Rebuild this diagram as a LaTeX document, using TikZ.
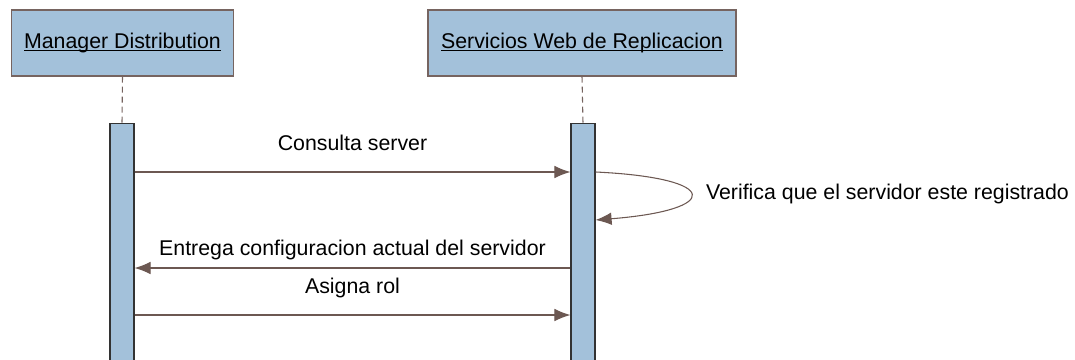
\documentclass[tikz,border=0pt]{standalone}
\usepackage{fontspec}
\setmainfont{Liberation Sans}
\usetikzlibrary{arrows.meta}
\definecolor{lifefill}{RGB}{163,193,218}
\definecolor{boxline}{RGB}{118,100,96}
\definecolor{msgline}{RGB}{108,88,82}
\newcommand{\ulabel}[1]{\setbox0\hbox{#1}\rlap{\rule[-1.6pt]{\wd0}{0.8pt}}\box0}
\tikzset{
  actor/.style={draw=boxline, fill=lifefill, line width=0.9pt, inner sep=0pt,
    font=\fontsize{16}{19}\selectfont},
  bar/.style={draw=black!80, fill=lifefill, line width=0.9pt, minimum width=18pt,
    minimum height=185pt, inner sep=0pt},
  lifeline/.style={draw=boxline, dash pattern=on 4.5pt off 3pt, line width=0.8pt},
  msg/.style={draw=msgline, line width=0.8pt, ->},
  msgtext/.style={font=\fontsize{16}{19}\selectfont, text height=11.5pt, text depth=3.5pt}
}
\begin{document}
\begin{tikzpicture}[x=0.75pt, y=-0.75pt]
    \tikzset{>={Latex[length=12pt,width=9.5pt]}}
    \useasboundingbox (0,0) rectangle (1075,360);
    \node[actor, minimum width=167pt, minimum height=49.5pt] (manager) at (122.5,43) {\ulabel{Manager Distribution}};
    \node[actor, minimum width=231pt, minimum height=49.5pt] (servicios) at (582,43) {\ulabel{Servicios Web de Replicacion}};
    \node[bar] (barM) at (122,246.5) {};
    \node[bar] (barS) at (583,246.5) {};
    \draw[lifeline] (manager.south) -- (barM.north);
    \draw[lifeline] (servicios.south) -- (barS.north);
    \coordinate (m1) at (0,172);
    \coordinate (s1) at (0,220);
    \coordinate (m2) at (0,268);
    \coordinate (m3) at (0,315);
    \draw[msg] (barM.east |- m1) -- (barS.west |- m1) node[msgtext, midway, above=9pt] {Consulta server};
    \draw[msg] (barS.east |- m1) .. controls (722,178) and (722,210) .. (barS.east |- s1)
        node[msgtext, pos=0.5, right=8pt, anchor=west] {Verifica que el servidor este registrado};
    \draw[msg] (barS.west |- m2) -- (barM.east |- m2) node[msgtext, midway, above=2.5pt] {Entrega configuracion actual del servidor};
    \draw[msg] (barM.east |- m3) -- (barS.west |- m3) node[msgtext, midway, above=9pt] {Asigna rol};
\end{tikzpicture}
\end{document}
